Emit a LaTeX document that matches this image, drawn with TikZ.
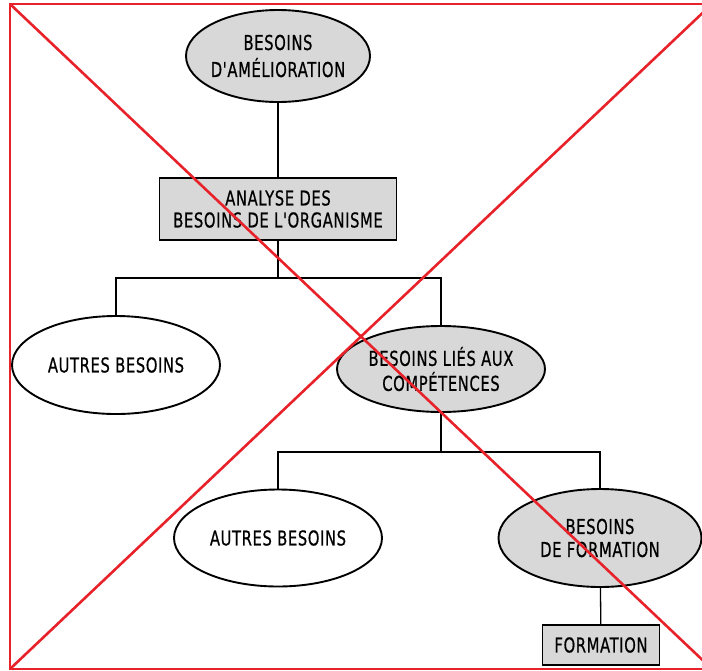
\documentclass[tikz,border=0pt]{standalone}
\usepackage{fontspec}
\newfontfamily\dinfont[FakeStretch=0.72, FakeBold=0.6, LetterSpace=3]{DejaVu Sans}
\usetikzlibrary{shapes, positioning}
\definecolor{crossred}{RGB}{232,34,42}
\definecolor{dotgray}{RGB}{216,216,216}
\tikzset{
    need/.style={ellipse, draw, line width=1.9pt, inner xsep=-10pt, inner ysep=0pt,
      align=center, font=\dinfont\fontsize{20.5}{24}\selectfont},
    grayneed/.style={need, fill=dotgray},
    whiteneed/.style={need, fill=white},
    task/.style={rectangle, draw, line width=1.9pt, fill=dotgray, align=center,
      font=\dinfont\fontsize{20.5}{24}\selectfont},
    link/.style={line width=1.3pt}
  }

\begin{document}
\begin{tikzpicture}[x=1pt, y=-1pt]
            \useasboundingbox (0,0) rectangle (702,670);
            \node (amelioration) [grayneed, minimum width=184, minimum height=92] at (278,56) {BESOINS\\[3pt]D'AMÉLIORATION};
            \node (analyse) [task, minimum width=237, minimum height=62] at (278,209) {ANALYSE DES\\[-2pt]BESOINS DE L'ORGANISME};
            \node (autres1) [whiteneed, minimum width=208, minimum height=98] at (116,365) {AUTRES BESOINS};
            \node (competences) [grayneed, minimum width=208, minimum height=86] at (441,369) {BESOINS LIÉS AUX\\[1pt]COMPÉTENCES};
            \node (autres2) [whiteneed, minimum width=208, minimum height=97] at (278,538) {AUTRES BESOINS};
            \node (besoinsformation) [grayneed, minimum width=203, minimum height=98] at (600,538) {BESOINS\\[-1pt]DE FORMATION};
            \node (formation) [task, minimum width=117, minimum height=40] at (601,645) {FORMATION};
            \draw[link] (amelioration) -- (analyse);
            \draw[link] (analyse.south) -- ++(0,37) coordinate (fork1);
            \draw[link] (fork1) -| (autres1.north);
            \draw[link] (fork1) -| (competences.north);
            \draw[link] (competences.south) -- ++(0,39) coordinate (fork2);
            \draw[link] (fork2) -| (autres2.north);
            \draw[link] (fork2) -| (besoinsformation.north);
            \draw[link] (besoinsformation) -- (formation);
            \coordinate (topleft) at (10,4);
            \coordinate (bottomright) at (712,669);
            \draw[crossred, line width=2.6pt] (topleft) rectangle (bottomright);
            \draw[crossred, line width=2.6pt] (topleft) -- (bottomright) (topleft |- bottomright) -- (bottomright |- topleft);
        \end{tikzpicture}
\end{document}
